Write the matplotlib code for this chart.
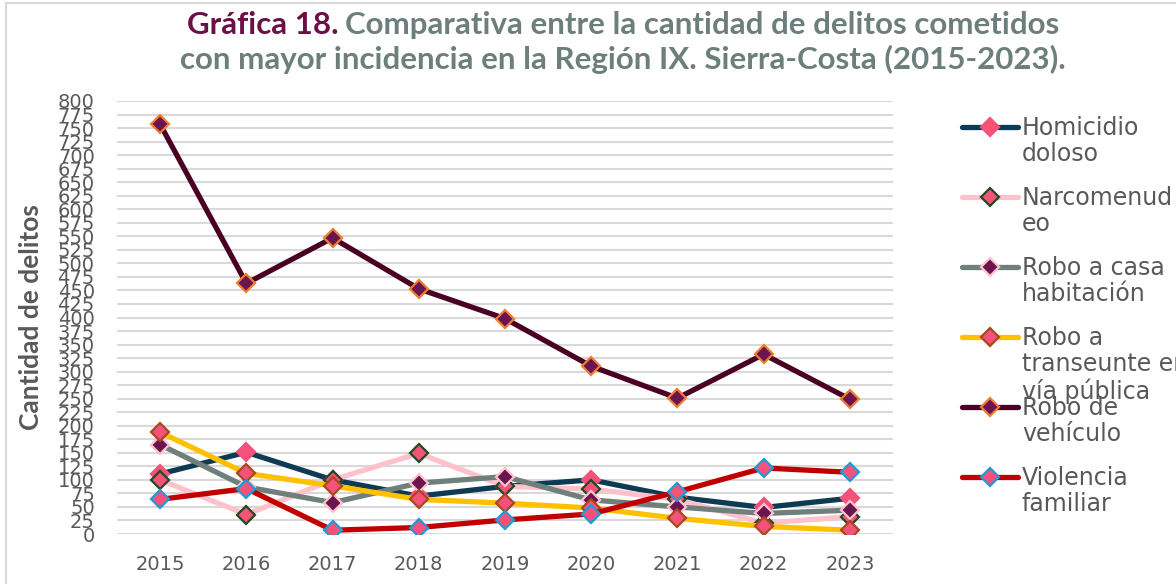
import matplotlib
matplotlib.use("Agg")
import matplotlib.pyplot as plt
from matplotlib.lines import Line2D

# datos
anios = ["2015", "2016", "2017", "2018", "2019", "2020", "2021", "2022", "2023"]
homicidio = [111, 151, 100, 70, 88, 100, 68, 49, 66]
narcomenudeo = [100, 36, 100, 149, 88, 83, 64, 20, 32]
robo_casa = [165, 87, 58, 94, 106, 63, 50, 38, 44]
robo_transeunte = [188, 112, 89, 64, 57, 48, 29, 14, 7]
robo_vehiculo = [757, 463, 547, 453, 398, 310, 251, 332, 249]
violencia = [64, 84, 7, 12, 26, 37, 78, 122, 114]

etiquetas = ["Homicidio\ndoloso", "Narcomenud\neo", "Robo a casa\nhabitación",
             "Robo a\ntranseunte en\nvía pública", "Robo de\nvehículo",
             "Violencia\nfamiliar"]
series = [homicidio, narcomenudeo, robo_casa, robo_transeunte, robo_vehiculo, violencia]

ROSA_MK = "#F5527A"
estilos = [
    # color linea, relleno marcador, borde marcador
    ("#0D3B54", ROSA_MK, ROSA_MK),
    ("#FFC2CD", ROSA_MK, "#1F4A22"),
    ("#6E7F7C", "#6A1450", "#FFC2CD"),
    ("#FFC000", ROSA_MK, "#A8481E"),
    ("#4A0022", "#6A1450", "#EE7D31"),
    ("#C00000", ROSA_MK, "#1E9BD7"),
]

GRIS_TXT = "#595959"
W, H = 1176, 584

fig = plt.figure(figsize=(W / 100, H / 100), dpi=100)
ax = fig.add_axes([117 / W, 50 / H, 776 / W, 433 / H])

x = list(range(len(anios)))
for vals, (c, mf, me) in zip(series, estilos):
    ax.plot(x, vals, color=c, lw=3.8, marker="D", markersize=9,
            markerfacecolor=mf, markeredgecolor=me, markeredgewidth=1.6,
            solid_joinstyle="miter")

ax.set_xlim(-0.5, len(anios) - 0.5)
ax.set_ylim(0, 800)
ax.set_xticks(x)
ax.set_xticklabels(anios)
ax.set_yticks(range(0, 825, 25))
ax.tick_params(axis="both", length=0, labelsize=14, colors=GRIS_TXT)
ax.tick_params(axis="y", pad=16)
ax.tick_params(axis="x", pad=15)
ax.yaxis.grid(True, color="#D9D9D9", lw=1.5)
ax.set_axisbelow(True)
for s in ax.spines.values():
    s.set_visible(False)

ax.set_ylabel("Cantidad de delitos", fontsize=19, fontweight="bold",
              family="Lato", color=GRIS_TXT)
ax.yaxis.set_label_coords(-0.095, 0.5)

# borde exterior
fig.add_artist(Line2D([6 / W, 6 / W], [0, 1 - 3 / H], color="#D9D9D9", lw=1.5))
fig.add_artist(Line2D([6 / W, 1], [1 - 3 / H, 1 - 3 / H], color="#D9D9D9", lw=1.5))

# titulo en dos colores
r = fig.canvas.get_renderer()
tf = dict(fontsize=22.5, fontweight="bold", family="Lato", va="center")
t1 = fig.text(0, 1 - 25 / H, "Gráfica 18.", color="#6D0F47", **tf)
t2 = fig.text(0, 1 - 25 / H, "Comparativa entre la cantidad de delitos cometidos",
              color="#6D7F7B", **tf)
w1 = t1.get_window_extent(r).width
w2 = t2.get_window_extent(r).width
gap = 7
x0 = 623 - (w1 + gap + w2) / 2
t1.set_x(x0 / W)
t2.set_x((x0 + w1 + gap) / W)
fig.text(623 / W, 1 - 59 / H,
         "con mayor incidencia en la Región IX. Sierra-Costa (2015-2023).",
         color="#6D7F7B", ha="center", **tf)

# leyenda manual (el texto de 3 lineas se encima como en el original)
lax = fig.add_axes([0, 0, 1, 1], facecolor="none")
lax.set_xlim(0, W)
lax.set_ylim(H, 0)
lax.axis("off")
for i, (lab, (c, mf, me)) in enumerate(zip(etiquetas, estilos)):
    yy = 127 + 70 * i
    lax.plot([962, 1018], [yy, yy], color=c, lw=3.8, solid_capstyle="round")
    lax.plot([990], [yy], marker="D", markersize=9, markerfacecolor=mf,
             markeredgecolor=me, markeredgewidth=1.6)
    lax.text(1022, yy - 11, lab, fontsize=17, color=GRIS_TXT, va="top",
             ha="left", linespacing=1.12)

fig.savefig("out.png", dpi=100)
